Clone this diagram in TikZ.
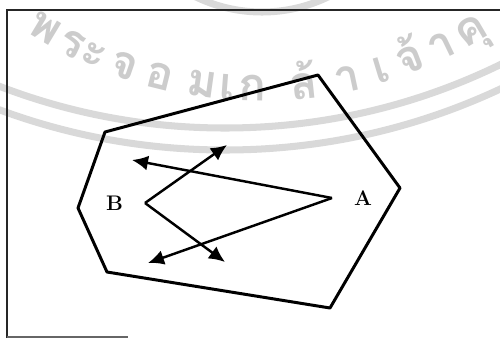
\documentclass[tikz,border=0pt]{standalone}
\usepackage{fontspec}
\newfontfamily\thaifont[Script=Thai]{Loma}
\usepackage{tikz}
\usetikzlibrary{arrows.meta, positioning, calc}
\tikzset{
  frame/.style={draw=black!85, line width=1pt},
  hull/.style={draw=black, line width=1.7pt, line join=round},
  vec/.style={-{Latex[length=3.2mm,width=3mm]}, line width=1.4pt},
  lbl/.style={font=\large\bfseries, inner sep=1pt},
  wmark/.style={text=black!20, font=\thaifont\bfseries\fontsize{26}{26}\selectfont,
    anchor=base, inner sep=0pt},
  band/.style={draw=black!15, line width=4pt}
}

\begin{document}
\begin{tikzpicture}[x=0.02cm, y=-0.02cm]
  \useasboundingbox (0,0) rectangle (500,338);

  % watermark
  \begin{scope}
    \clip (0,0) rectangle (500,338);
    \draw[band] (225,-500) circle[radius=628];
    \draw[band] (225,-500) circle[radius=650];
    \draw[band] (262,-140) circle[radius=152];
    \foreach \ch/\px in {พ/38, ระ/78, จ/120, อ/157, ม/200, เ/226, ก/252,
        ล้/305, า/350, เ/385, จ้/415, า/447, คุ/478} {
      \pgfmathsetmacro\th{asin((\px-260)/430)}
      \node[wmark, rotate=\th] at (\px, {-329+430*cos(\th)}) {\ch};
    }
  \end{scope}

  % frame
  \draw[frame] (7,338) -- (7,10) -- (500,10);
  \draw[draw=black!60, line width=0.8pt] (7,337) -- (128,337);

  % hull
  \draw[hull] (318,75) -- (400,188) -- (330,308) -- (107,272)
    -- (78,208) -- (105,132) -- cycle;

  % vectors
  \coordinate (p) at (145,203);
  \coordinate (q) at (332,198);
  \coordinate (pa) at (227,145);
  \coordinate (pb) at (225,262);
  \coordinate (qa) at (132,160);
  \coordinate (qb) at (148,263);
  \node[lbl, left=0.4cm of p] (labB) {B};
  \node[lbl, right=0.4cm of q] (labA) {A};

  \draw[vec] (p) -- (pa);
  \draw[vec] (p) -- (pb);
  \draw[vec] (q) -- (qa);
  \draw[vec] (q) -- (qb);
\end{tikzpicture}
\end{document}
